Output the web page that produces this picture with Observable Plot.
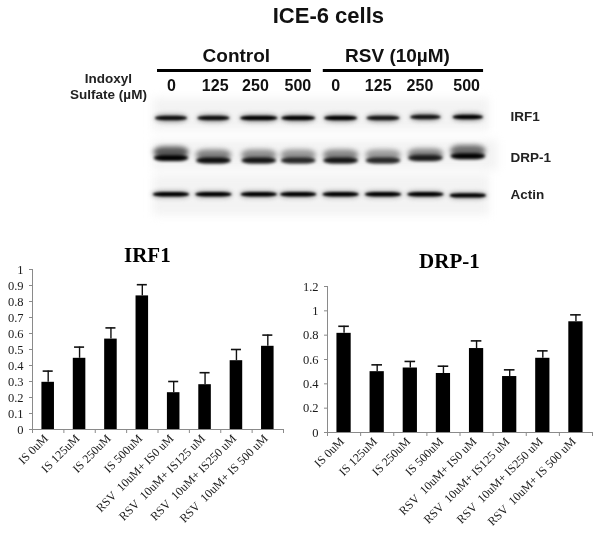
<!DOCTYPE html>
<html>
<head>
<meta charset="utf-8">
<script src="https://cdn.jsdelivr.net/npm/d3@7"></script>
<script src="https://cdn.jsdelivr.net/npm/@observablehq/plot@0.6"></script>
<style>
html,body{margin:0;padding:0;background:#fff}
#page{position:relative;width:595px;height:534px;overflow:hidden;filter:blur(0.35px)}
#page svg{position:absolute;overflow:visible;background:transparent}
</style>
</head>
<body>
<div id="page"></div>
<script>
const categories = ["IS 0uM","IS 125uM","IS 250uM","IS 500uM","RSV  10uM+ IS0 uM","RSV  10uM+ IS125 uM","RSV  10uM+ IS250 uM","RSV  10uM+ IS 500 uM"];
const irf1Values = [0.295,0.445,0.565,0.835,0.23,0.28,0.43,0.52];
const irf1Upper  = [0.365,0.515,0.635,0.905,0.30,0.355,0.50,0.59];
const drp1Values = [0.815,0.50,0.53,0.485,0.69,0.46,0.61,0.91];
const drp1Upper  = [0.873,0.556,0.584,0.545,0.753,0.515,0.671,0.967];
const irf1Ticks = [0,0.1,0.2,0.3,0.4,0.5,0.6,0.7,0.8,0.9,1];
const drp1Ticks = [0,0.2,0.4,0.6,0.8,1,1.2];

const doses = ["0","125","250","500","0","125","250","500"];
const doseShift = [0,0.03,-0.02,-0.02,-0.13,-0.125,-0.14,-0.04];
const laneShift = [0,0,0.07,0,0,0,0,0];
// band darkness and size on the gel, per lane
const irfDark   = [0.95,0.95,1.00,1.00,1.00,0.92,0.92,1.00];
const irfWidth  = [0.76,0.76,0.88,0.80,0.78,0.78,0.72,0.72];
const irfRow    = [0.906,0.906,0.906,0.906,0.906,0.906,0.878,0.878];
const drpLower  = [1.00,0.95,0.92,0.85,0.92,0.85,0.90,1.00];
const drpLowRow = [2.00,2.07,2.07,2.07,2.07,2.07,2.00,1.95];
const drpUpper  = [0.66,0.50,0.45,0.42,0.48,0.40,0.48,0.58];
const drpUpRow  = [1.84,1.92,1.92,1.92,1.92,1.92,1.89,1.80];
const actinDark = [1.00,1.00,1.00,1.00,1.00,1.00,1.00,1.00];
const actinRow  = [3,3,3,3,3,3,3,3.03];

const page = document.getElementById("page");
const serif = "'Liberation Serif','Times New Roman',serif";
const sans = "'Liberation Sans',Arial,sans-serif";

function barChart(values, upper, ticks, yMax, barW, title, titleX, titleY, width, marginLeft, marginRight, marginTop, marginBottom, left, capInset) {
  const rows = categories.map((c,i)=>({i, value:values[i], upper:upper[i]}));
  const svg = Plot.plot({
    width, height:299, marginLeft, marginRight, marginTop, marginBottom,
    style:{fontFamily:serif, fontSize:"12.5px", color:"#1a1a1a", background:"transparent"},
    x:{domain:[0,8], axis:null},
    y:{domain:[0,yMax], axis:null},
    marks:[
      Plot.rect(rows,{x1:d=>d.i+0.5-barW/2, x2:d=>d.i+0.5+barW/2, y1:0, y2:"value", fill:"#000"}),
      Plot.ruleX(rows,{x:d=>d.i+0.5, y1:"value", y2:"upper", stroke:"#111", strokeWidth:1.4}),
      Plot.ruleY(rows,{y:"upper", x1:d=>d.i+0.5-capInset, x2:d=>d.i+0.5+capInset, stroke:"#111", strokeWidth:1.6}),
      Plot.ruleY([0],{stroke:"#8a8a8a", strokeWidth:1}),
      Plot.ruleX([0],{stroke:"#8a8a8a", strokeWidth:1}),
      Plot.axisY({ticks, tickSize:3, tickPadding:6, stroke:"#8a8a8a", fill:"#1a1a1a", fontSize:12.5, tickFormat:d=>String(d), label:null}),
      Plot.axisX({ticks:d3.range(0,9), tickSize:4, stroke:"#8a8a8a", tickFormat:()=>"", label:null}),
      Plot.axisX({ticks:d3.range(8).map(i=>i+0.5), tickSize:0, tickPadding:6, tickRotate:-45, fill:"#1a1a1a", fontSize:12, dx:-2, dy:1, tickFormat:d=>categories[d-0.5], label:null}),
      Plot.text([title],{x:titleX, y:titleY, text:d=>d, fontSize:21, fontWeight:"bold", fontFamily:serif, fill:"#000"})
    ]
  });
  svg.style.left = left+"px";
  svg.style.top = "235px";
  page.appendChild(svg);
}
barChart(irf1Values, irf1Upper, irf1Ticks, 1, 0.40, "IRF1", 3.66, 1.09, 297, 32, 14, 34, 105, 0, 0.16);
barChart(drp1Values, drp1Upper, drp1Ticks, 1.2, 0.43, "DRP-1", 3.68, 1.41, 300, 32, 3, 51, 102, 295, 0.16);

// Blot panel: x in lanes, y in rows
const lanes = d3.range(8);
const irfGlow    = lanes.map(i=>({lane:i, y:irfRow[i], w:irfWidth[i]*1.05, t:0.24, k:0.35}));
const irfBands   = lanes.map(i=>({lane:i, y:irfRow[i], w:irfWidth[i], t:0.12, k:irfDark[i]}));
const upperBands = lanes.map(i=>({lane:i, y:drpUpRow[i], w:0.84, t:0.30, k:drpUpper[i]}));
const lowerBands = lanes.map(i=>({lane:i, y:drpLowRow[i], w:0.82, t:0.17, k:drpLower[i]}));
const actinGlow  = lanes.map(i=>({lane:i, y:actinRow[i], w:0.92, t:0.22, k:0.3}));
const actinBands = lanes.map(i=>({lane:i, y:actinRow[i], w:0.86, t:0.12, k:actinDark[i]}));
const halos = [{y1:0.36,y2:1.24,x2:8.0},{y1:1.51,y2:2.33,x2:8.2},{y1:2.47,y2:3.57,x2:8.0}];
const bandRect = (data, blur) => Plot.rect(data,{
  x1:d=>d.lane+laneShift[d.lane]+0.5-d.w/2, x2:d=>d.lane+laneShift[d.lane]+0.5+d.w/2,
  y1:d=>d.y-d.t/2, y2:d=>d.y+d.t/2, fill:"k", rx:10, imageFilter:`blur(${blur}px)`, mixBlendMode:"multiply"});
const blot = Plot.plot({
  width:595, height:235, margin:0,
  style:{fontFamily:sans, color:"#000", background:"transparent"},
  x:{domain:[0,8], range:[149.8,489], axis:null},
  y:{domain:[0,3], range:[85,194.3], axis:null},
  color:{type:"linear", domain:[0,1], range:["#ffffff","#000000"]},
  marks:[
    Plot.rect(halos,{x1:0.08,x2:"x2",y1:"y1",y2:"y2",fill:"#f3f3f3",imageFilter:"blur(4px)"}),
    bandRect(upperBands,2.4),
    bandRect(lowerBands,1.6),
    bandRect(irfGlow,2.2),
    bandRect(irfBands,1.2),
    bandRect(actinGlow,2),
    bandRect(actinBands,1.1),
    Plot.ruleY([-0.41],{x1:0.17,x2:3.80,stroke:"#000",strokeWidth:3}),
    Plot.ruleY([-0.41],{x1:4.08,x2:7.86,stroke:"#000",strokeWidth:3}),
    Plot.text(lanes,{x:d=>d+0.5+doseShift[d], y:0, text:d=>doses[d], fontSize:16, fontWeight:"bold", fill:"#111"}),
    Plot.text(["ICE-6 cells"],{x:4.2,y:-1.92,text:d=>d,fontSize:22,fontWeight:"bold",fill:"#111"}),
    Plot.text(["Control"],{x:2.03,y:-0.80,text:d=>d,fontSize:19,fontWeight:"bold",fill:"#111"}),
    Plot.text(["RSV (10µM)"],{x:5.83,y:-0.80,text:d=>d,fontSize:19,fontWeight:"bold",fill:"#111"}),
    Plot.text(["Indoxyl"],{x:-0.986,y:-0.19,text:d=>d,fontSize:13.5,fontWeight:"bold",fill:"#222"}),
    Plot.text(["Sulfate (µM)"],{x:-0.986,y:0.247,text:d=>d,fontSize:13.5,fontWeight:"bold",fill:"#222"}),
    Plot.text(["IRF1"],{x:8.495,y:0.843,text:d=>d,textAnchor:"start",fontSize:13.5,fontWeight:"bold",fill:"#222"}),
    Plot.text(["DRP-1"],{x:8.495,y:1.968,text:d=>d,textAnchor:"start",fontSize:13.5,fontWeight:"bold",fill:"#222"}),
    Plot.text(["Actin"],{x:8.495,y:3.0,text:d=>d,textAnchor:"start",fontSize:13.5,fontWeight:"bold",fill:"#222"})
  ]
});
blot.style.left="0px"; blot.style.top="0px";
page.appendChild(blot);
</script>
</body>
</html>
